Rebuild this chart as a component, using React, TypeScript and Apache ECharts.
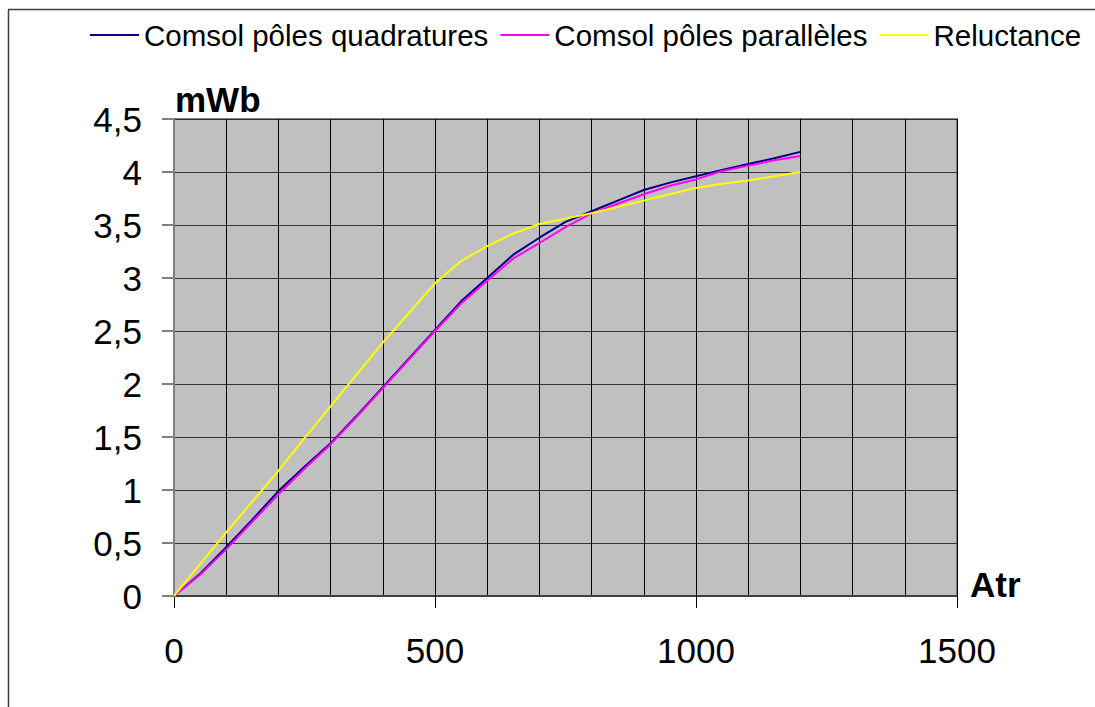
import React, { useEffect, useRef } from "react";
import * as echarts from "echarts";

const atr = [0, 50, 100, 150, 200, 250, 300, 350, 400, 450, 500, 550, 600, 650, 700, 750, 800, 850, 900, 950, 1000, 1050, 1100, 1150, 1200];
const quadratures = [0, 0.21, 0.46, 0.72, 0.99, 1.22, 1.44, 1.7, 1.97, 2.24, 2.51, 2.78, 3.0, 3.22, 3.38, 3.53, 3.63, 3.73, 3.83, 3.9, 3.96, 4.02, 4.075, 4.13, 4.19];
const paralleles = [0, 0.2, 0.44, 0.7, 0.96, 1.2, 1.43, 1.69, 1.96, 2.23, 2.5, 2.76, 2.975, 3.185, 3.33, 3.48, 3.61, 3.7, 3.79, 3.87, 3.93, 4.01, 4.06, 4.11, 4.15];
const reluctance = [0, 0.3, 0.6, 0.89, 1.18, 1.49, 1.79, 2.09, 2.39, 2.67, 2.95, 3.16, 3.3, 3.42, 3.51, 3.56, 3.61, 3.67, 3.73, 3.79, 3.85, 3.89, 3.92, 3.96, 4.0];
const seriesNames = ["Comsol pôles quadratures", "Comsol pôles parallèles", "Reluctance"];
const seriesColors = ["#000080", "#ff00ff", "#ffff00"];
const yUnit = "mWb";
const xUnit = "Atr";

const FONT = "'Liberation Sans', Arial, sans-serif";

export default function App() {
  const ref = useRef<HTMLDivElement>(null);
  useEffect(() => {
    if (!ref.current) return;
    const chart = echarts.init(ref.current, null, { renderer: "svg" });
    const values = [quadratures, paralleles, reluctance];
    chart.setOption({
      animation: false,
      backgroundColor: "#ffffff",
      textStyle: { fontFamily: FONT },
      legend: {
        left: 90,
        top: 20,
        padding: 0,
        itemWidth: 49,
        itemHeight: 2,
        itemGap: 12,
        icon: "rect",
        textStyle: { fontSize: 29.5, color: "#000", fontFamily: FONT },
        data: seriesNames,
      },
      grid: {
        left: 174,
        top: 119,
        width: 783,
        height: 477,
        show: true,
        backgroundColor: "#c0c0c0",
        borderColor: "#808080",
        borderWidth: 2,
      },
      xAxis: {
        type: "value",
        min: 0,
        max: 1500,
        interval: 500,
        axisLine: { show: true, lineStyle: { color: "#404040", width: 2 } },
        axisTick: { show: true, length: 12, lineStyle: { color: "#000", width: 1 } },
        minorTick: { show: false, splitNumber: 5 },
        minorSplitLine: { show: true, lineStyle: { color: "#000", width: 1 } },
        splitLine: { show: true, lineStyle: { color: "#000", width: 1 } },
        axisLabel: {
          fontSize: 35,
          color: "#000",
          margin: 37,
          fontFamily: FONT,
          formatter: (v: number) => String(v),
        },
      },
      yAxis: {
        type: "value",
        min: 0,
        max: 4.5,
        interval: 0.5,
        axisLine: { show: true, lineStyle: { color: "#808080", width: 2 } },
        axisTick: { show: true, length: 12, lineStyle: { color: "#808080", width: 2 } },
        splitLine: { show: true, lineStyle: { color: "#333", width: 1 } },
        axisLabel: {
          fontSize: 35,
          color: "#000",
          margin: 32,
          fontFamily: FONT,
          formatter: (v: number) => String(v).replace(".", ","),
        },
      },
      graphic: [
        { type: "line", shape: { x1: 8.5, y1: 10, x2: 8.5, y2: 707 }, style: { stroke: "#404040", lineWidth: 1.5 } },
        { type: "line", shape: { x1: 8, y1: 9.5, x2: 1095, y2: 9.5 }, style: { stroke: "#404040", lineWidth: 1.5 } },
        { type: "text", left: 175, top: 82, style: { text: yUnit, fontSize: 35, fontWeight: "bold", fill: "#000", fontFamily: FONT } },
        { type: "text", left: 970, top: 567, style: { text: xUnit, fontSize: 35, fontWeight: "bold", fill: "#000", fontFamily: FONT } },
      ],
      series: seriesNames.map((name, i) => ({
        name,
        type: "line",
        symbol: "none",
        color: seriesColors[i],
        lineStyle: { color: seriesColors[i], width: 2 },
        data: atr.map((a, j) => [a, values[i][j]]),
      })),
    });
    return () => chart.dispose();
  }, []);
  return <div ref={ref} style={{ width: 1095, height: 707, position: "absolute", left: 0, top: 0 }} />;
}
